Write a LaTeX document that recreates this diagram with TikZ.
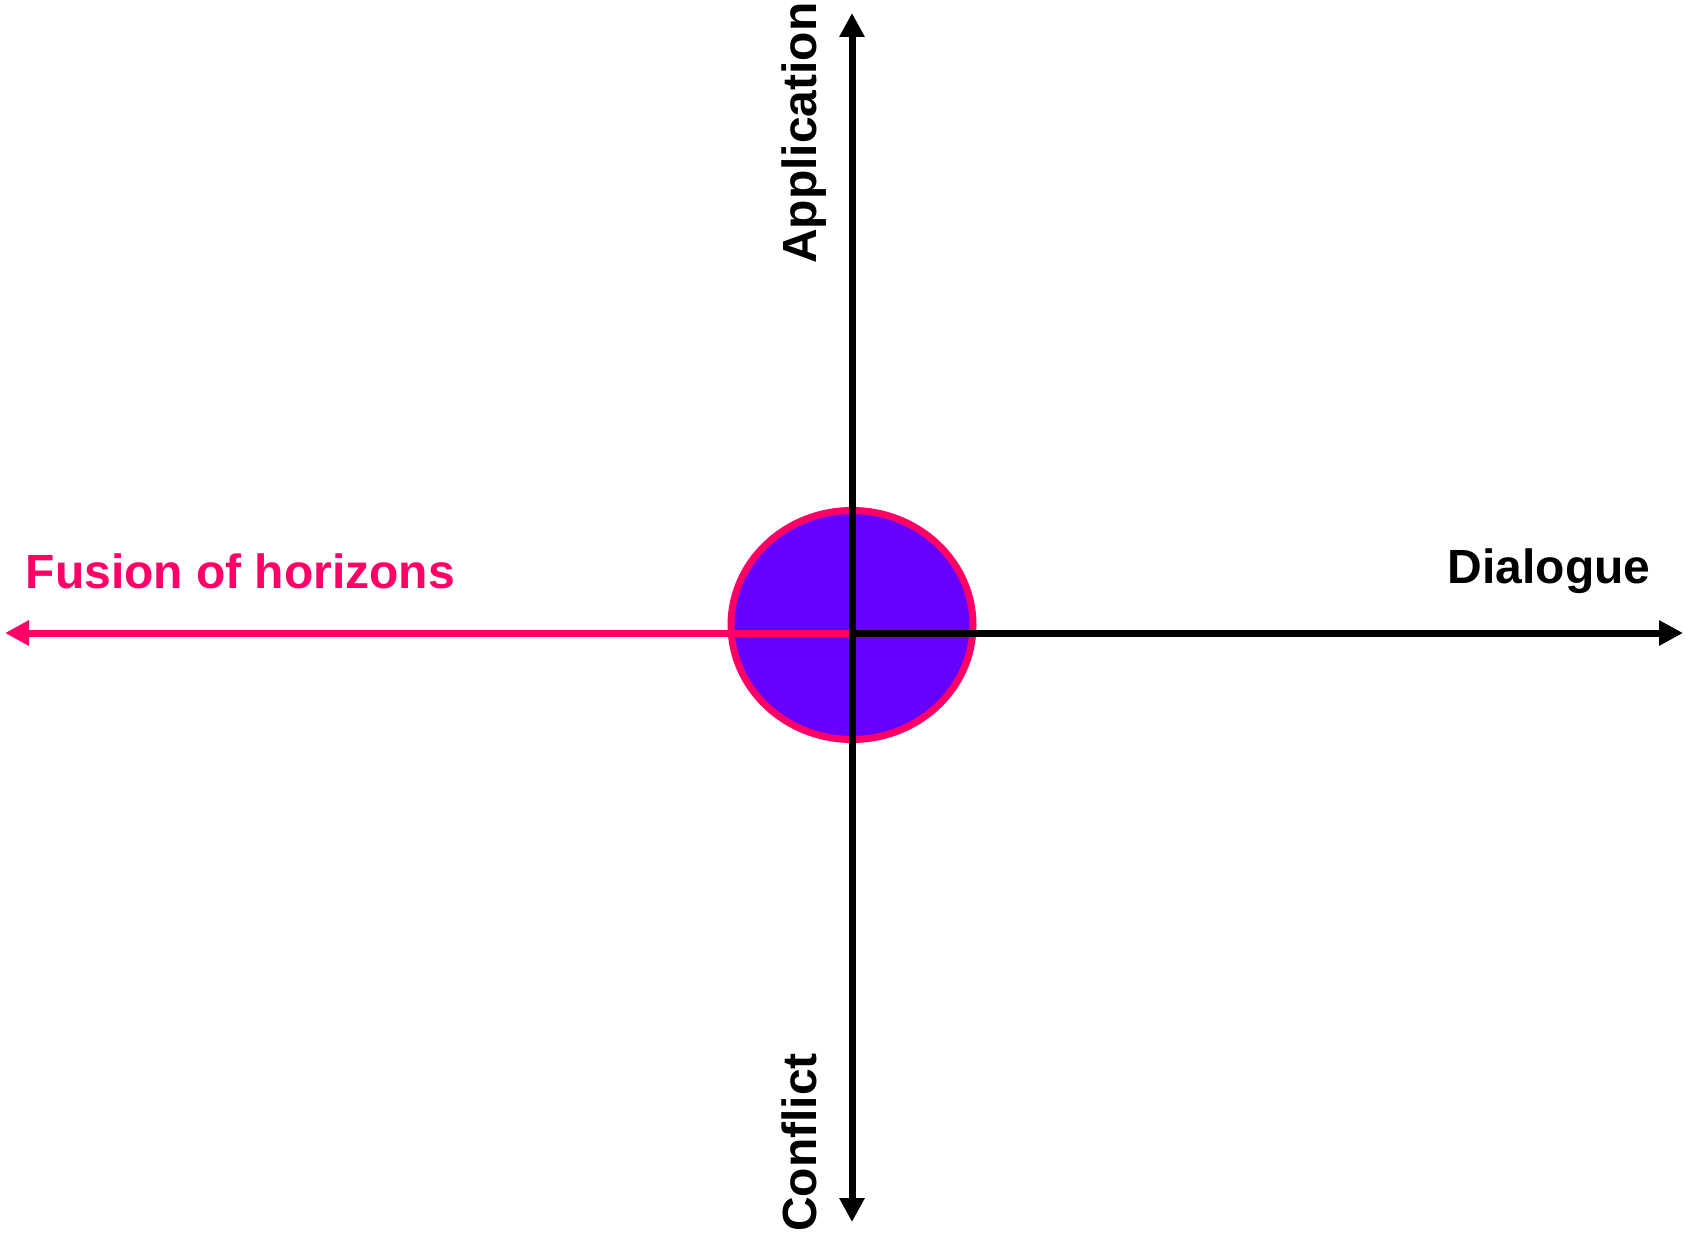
\documentclass[tikz,border=0pt]{standalone}
\usepackage{fontspec}
\setmainfont{Liberation Sans}
\usetikzlibrary{arrows.meta,shapes.geometric}
\definecolor{pinkc}{HTML}{FF0066}
\definecolor{purplec}{HTML}{6600FF}
\begin{document}
\begin{tikzpicture}[x=1pt,y=-1pt,
  axis/.style={line width=7pt,-{Triangle[length=24pt,width=24pt]}},
  lbl/.style={inner sep=0pt,font=\fontsize{48pt}{56pt}\selectfont\bfseries}]
\useasboundingbox (0,0) rectangle (1686,1239);
\fill[white] (0,0) rectangle (1686,1239);
\coordinate (o) at (852,633);
\coordinate (top) at (852,13);
\coordinate (bot) at (852,1222);
\coordinate (left) at (5,633);
\coordinate (right) at (1683,633);
\node[draw=pinkc,fill=purplec,line width=7pt,ellipse,minimum width=242pt,minimum height=229pt,inner sep=0pt] (blob) at (852,625) {};
\draw[axis,draw=pinkc,fill=pinkc] (o) -- (left);
\draw[axis] (o) -- (right);
\draw[axis] (o) -- (top);
\draw[axis] (o) -- (bot);
\node[lbl,text=pinkc,anchor=base west] (fusion) at (25.5,588) {Fusion of horizons};
\node[lbl,anchor=base west] (dialogue) at (1447.5,583) {Dialogue};
\node[lbl,rotate=90,anchor=base west] (application) at (816,264) {Application};
\node[lbl,rotate=90,anchor=base west] (conflict) at (816,1232) {Conflict};
\end{tikzpicture}
\end{document}
